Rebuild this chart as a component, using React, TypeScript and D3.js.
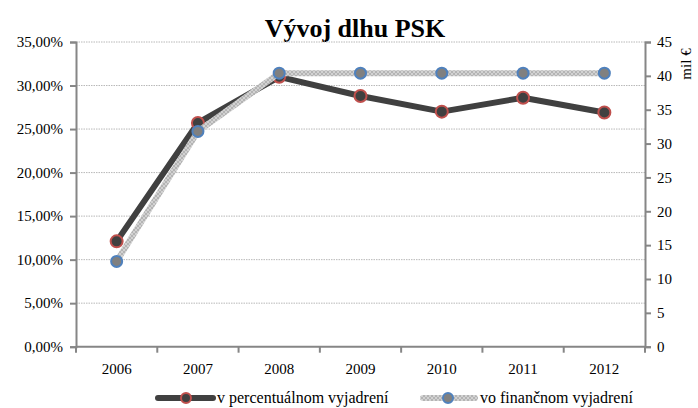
import React, { useEffect, useRef } from "react";
import * as d3 from "d3";

const years = ["2006", "2007", "2008", "2009", "2010", "2011", "2012"];
const percentValues = [12.1, 25.7, 31.0, 28.8, 27.0, 28.6, 26.9];
const financeValues = [12.6, 31.8, 40.4, 40.4, 40.4, 40.4, 40.4];
const leftTicks = [0, 5, 10, 15, 20, 25, 30, 35];
const rightTicks = [0, 5, 10, 15, 20, 25, 30, 35, 40, 45];

const WIDTH = 698;
const HEIGHT = 408;
const FONT = "'Liberation Serif', 'Times New Roman', serif";
const AXIS_COLOUR = "#868686";
const DARK = "#404040";

const App = () => {
  const svgRef = useRef<SVGSVGElement | null>(null);

  useEffect(() => {
    const svg = d3.select(svgRef.current);
    svg.selectAll("*").remove();

    const left = 76, right = 645, top = 42, bottom = 346.7;

    const x = d3.scaleBand().domain(years).range([left, right]);
    const yLeft = d3.scaleLinear().domain([0, 35]).range([bottom, top]);
    const yRight = d3.scaleLinear().domain([0, 45]).range([bottom, top]);

    // hatched pattern for the financial series
    const defs = svg.append("defs");
    const pat = defs.append("pattern")
      .attr("id", "hatch")
      .attr("patternUnits", "userSpaceOnUse")
      .attr("width", 4)
      .attr("height", 4);
    pat.append("rect").attr("width", 4).attr("height", 4).attr("fill", "#d2d2d2");
    pat.append("path").attr("d", "M0,4 L4,0 M0,0 L4,4")
      .attr("stroke", "#a8a8a8").attr("stroke-width", 0.7);

    // title
    svg.append("text")
      .attr("x", 355)
      .attr("y", 37)
      .attr("text-anchor", "middle")
      .style("font-family", FONT)
      .style("font-size", "26px")
      .style("font-weight", "bold")
      .text("Vývoj dlhu PSK");

    // gridlines
    leftTicks.filter(t => t > 0).forEach(t => {
      svg.append("line")
        .attr("x1", left).attr("x2", right)
        .attr("y1", yLeft(t)).attr("y2", yLeft(t))
        .style("stroke", "#b8b8b8")
        .style("stroke-width", 1)
        .style("stroke-dasharray", "1.5,1");
    });

    // left axis
    const gl = svg.append("g").attr("transform", `translate(${left},0)`)
      .call(d3.axisLeft(yLeft).tickValues(leftTicks).tickSize(6).tickPadding(7)
        .tickFormat(d => d3.format(".2f")(d as number).replace(".", ",") + "%"));
    gl.attr("font-family", null);
    gl.select(".domain").attr("stroke", AXIS_COLOUR).attr("stroke-width", 2);
    gl.selectAll(".tick line").attr("stroke", AXIS_COLOUR).attr("stroke-width", 2);
    gl.selectAll("text").style("font-family", FONT).style("font-size", "15px").attr("fill", "#000");

    // right axis
    const gr = svg.append("g").attr("transform", `translate(${right},0)`)
      .call(d3.axisRight(yRight).tickValues(rightTicks).tickSize(6).tickPadding(6));
    gr.attr("font-family", null);
    gr.select(".domain").attr("stroke", AXIS_COLOUR).attr("stroke-width", 2);
    gr.selectAll(".tick line").attr("stroke", AXIS_COLOUR).attr("stroke-width", 2);
    gr.selectAll("text").style("font-family", FONT).style("font-size", "15px").attr("fill", "#000");

    svg.append("text")
      .attr("transform", `translate(691,64) rotate(-90)`)
      .attr("text-anchor", "middle")
      .style("font-family", FONT)
      .style("font-size", "15px")
      .text("mil €");

    // bottom axis: ticks at band boundaries
    svg.append("line")
      .attr("x1", left).attr("x2", right)
      .attr("y1", bottom).attr("y2", bottom)
      .style("stroke", AXIS_COLOUR).style("stroke-width", 2);
    d3.range(years.length + 1).forEach(i => {
      const bx = left + i * x.bandwidth();
      svg.append("line")
        .attr("x1", bx).attr("x2", bx)
        .attr("y1", bottom).attr("y2", bottom + 6)
        .style("stroke", AXIS_COLOUR).style("stroke-width", 2);
    });
    years.forEach(yr => {
      svg.append("text")
        .attr("x", (x(yr) as number) + x.bandwidth() / 2)
        .attr("y", bottom + 27)
        .attr("text-anchor", "middle")
        .style("font-family", FONT)
        .style("font-size", "15px")
        .text(yr);
    });

    const cx = (yr: string) => (x(yr) as number) + x.bandwidth() / 2;

    // percent series
    const lineP = d3.line<number>().x((d, i) => cx(years[i])).y(d => yLeft(d));
    svg.append("path")
      .attr("d", lineP(percentValues))
      .attr("fill", "none")
      .attr("stroke", DARK)
      .attr("stroke-width", 6)
      .attr("stroke-linejoin", "round");
    percentValues.forEach((v, i) => {
      svg.append("circle")
        .attr("cx", cx(years[i])).attr("cy", yLeft(v)).attr("r", 6)
        .attr("fill", DARK).attr("stroke", "#c0504d").attr("stroke-width", 2);
    });

    // finance series
    const lineF = d3.line<number>().x((d, i) => cx(years[i])).y(d => yRight(d));
    svg.append("path")
      .attr("d", lineF(financeValues))
      .attr("fill", "none")
      .attr("stroke", "url(#hatch)")
      .attr("stroke-width", 6)
      .attr("stroke-linejoin", "round");
    financeValues.forEach((v, i) => {
      svg.append("circle")
        .attr("cx", cx(years[i])).attr("cy", yRight(v)).attr("r", 5.5)
        .attr("fill", "#808080").attr("stroke", "#4f81bd").attr("stroke-width", 2);
    });

    // legend
    const ly = 398;
    svg.append("line").attr("x1", 158).attr("x2", 213).attr("y1", ly).attr("y2", ly)
      .attr("stroke", DARK).attr("stroke-width", 6).attr("stroke-linecap", "round");
    svg.append("circle").attr("cx", 186).attr("cy", ly).attr("r", 5)
      .attr("fill", DARK).attr("stroke", "#c0504d").attr("stroke-width", 2);
    svg.append("text").attr("x", 217).attr("y", ly + 5)
      .style("font-family", FONT).style("font-size", "16px")
      .text("v percentuálnom vyjadrení");

    svg.append("line").attr("x1", 423).attr("x2", 475).attr("y1", ly).attr("y2", ly)
      .attr("stroke", "url(#hatch)").attr("stroke-width", 6).attr("stroke-linecap", "round");
    svg.append("circle").attr("cx", 448).attr("cy", ly).attr("r", 5)
      .attr("fill", "#808080").attr("stroke", "#4f81bd").attr("stroke-width", 2);
    svg.append("text").attr("x", 480).attr("y", ly + 5)
      .style("font-family", FONT).style("font-size", "16px")
      .text("vo finančnom vyjadrení");
  }, []);

  return (
    <svg ref={svgRef} width={WIDTH} height={HEIGHT}
      style={{ position: "absolute", left: 0, top: 0, background: "#fff" }} />
  );
};

export default App;
